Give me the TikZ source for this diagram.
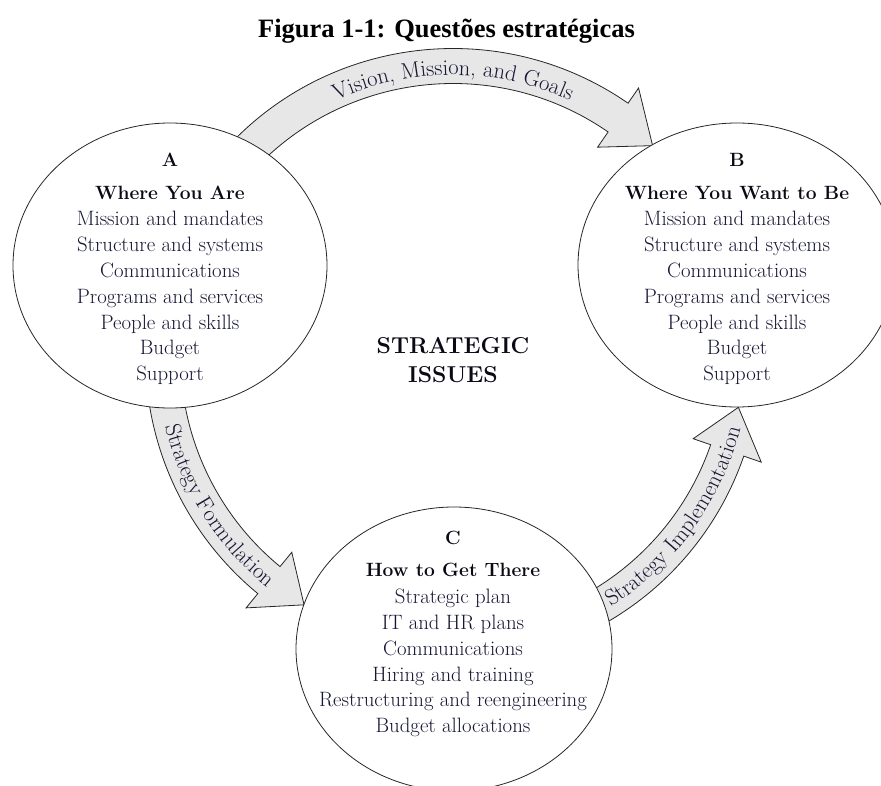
\documentclass[tikz,border=0pt]{standalone}
\usepackage{fontspec}
\newfontfamily\titlefont{Liberation Serif}
\usetikzlibrary{shapes.geometric,decorations.text}
\definecolor{txt}{RGB}{22,22,52}
\definecolor{hdr}{RGB}{10,10,20}
\definecolor{bandfill}{RGB}{231,231,231}
\begin{document}
\begin{tikzpicture}[x=1pt,y=1pt,
  band/.style={draw=black!85, line width=0.8pt, fill=bandfill, line join=miter},
  bubble/.style={draw=black!85, line width=0.8pt, fill=white, ellipse, inner sep=0pt},
  item/.style={anchor=base, text=txt, font=\fontsize{20.8}{24}\selectfont, inner sep=0pt},
  head/.style={anchor=base, text=hdr, font=\bfseries\fontsize{19.2}{24}\selectfont, inner sep=0pt},
  arclabel/.style={decorate, decoration={text along path, text align=center, text color=txt, text={|\fontsize{22.5}{26}\selectfont|#1}}}
]
\useasboundingbox (0,0) rectangle (881,-786);
\clip (0,0) rectangle (881,-786);

% title
\node[anchor=base, inner sep=0pt, font=\titlefont\bfseries\fontsize{26.5}{30}\selectfont] (title) at (446.5,-38) {Figura 1-1: Questões estratégicas};

% curved arrows around common centre
\begin{scope}[shift={(453,-356)}]
  \coordinate (O) at (0,0);
  % A -> B
  \draw[band] (140:307.5) arc[start angle=140, end angle=55.3, radius=307.5]
     -- (55.3:326) -- (46.5:290) coordinate (tipAB) -- (55.3:254) -- (55.3:272.5)
     arc[start angle=55.3, end angle=140, radius=272.5] -- cycle;
  % A -> C
  \draw[band] (185:307.5) arc[start angle=185, end angle=230.6, radius=307.5]
     -- (230.6:326) -- (239.1:290) coordinate (tipAC) -- (230.6:254) -- (230.6:272.5)
     arc[start angle=230.6, end angle=185, radius=272.5] -- cycle;
  % C -> B
  \draw[band] (-65:307.5) arc[start angle=-65, end angle=-19, radius=307.5]
     -- (-19:326) -- (-10.2:290) coordinate (tipCB) -- (-19:254) -- (-19:272.5)
     arc[start angle=-19, end angle=-65, radius=272.5] -- cycle;

  % labels along arrows
  \path[arclabel={Vision, Mission, and Goals}] (130:281) arc[start angle=130, end angle=50, radius=281];
  \path[arclabel={Strategy Formulation}] (178:296.5) arc[start angle=178, end angle=247, radius=296.5];
  \path[arclabel={Strategy Implementation}] (-72:296.5) arc[start angle=-72, end angle=0, radius=296.5];
\end{scope}

% circles
\node[bubble, minimum width=314pt, minimum height=285pt] (A) at (170,-265.5) {};
\node[bubble, minimum width=318pt, minimum height=284pt] (B) at (737,-265) {};
\node[bubble, minimum width=316pt, minimum height=284pt] (C) at (454,-649) {};

% circle A text
\node[head] (Ah) at (170,-167) {A};
\node[head] (At) at (170,-200) {Where You Are};
\foreach \t [count=\i] in {Mission and mandates, Structure and systems, Communications, Programs and services, People and skills, Budget, Support}
  \node[item] (A\i) at (170,{-225.5-(\i-1)*25.9}) {\t};

% circle B text
\node[head] (Bh) at (737,-167) {B};
\node[head] (Bt) at (737,-200) {Where You Want to Be};
\foreach \t [count=\i] in {Mission and mandates, Structure and systems, Communications, Programs and services, People and skills, Budget, Support}
  \node[item] (B\i) at (737,{-225.5-(\i-1)*25.9}) {\t};

% circle C text
\node[head] (Ch) at (453,-544) {C};
\node[head] (Ct) at (453,-576.7) {How to Get There};
\foreach \t [count=\i] in {Strategic plan, IT and HR plans, Communications, Hiring and training, Restructuring and reengineering, Budget allocations}
  \node[item] (C\i) at (453,{-603.3-(\i-1)*25.9}) {\t};

% centre label
\node[anchor=base, inner sep=0pt, text=hdr, font=\bfseries\fontsize{23}{28}\selectfont] (S1) at (453,-353) {STRATEGIC};
\node[anchor=base, inner sep=0pt, text=hdr, font=\bfseries\fontsize{23}{28}\selectfont] (S2) at (453,-382) {ISSUES};
\end{tikzpicture}
\end{document}
